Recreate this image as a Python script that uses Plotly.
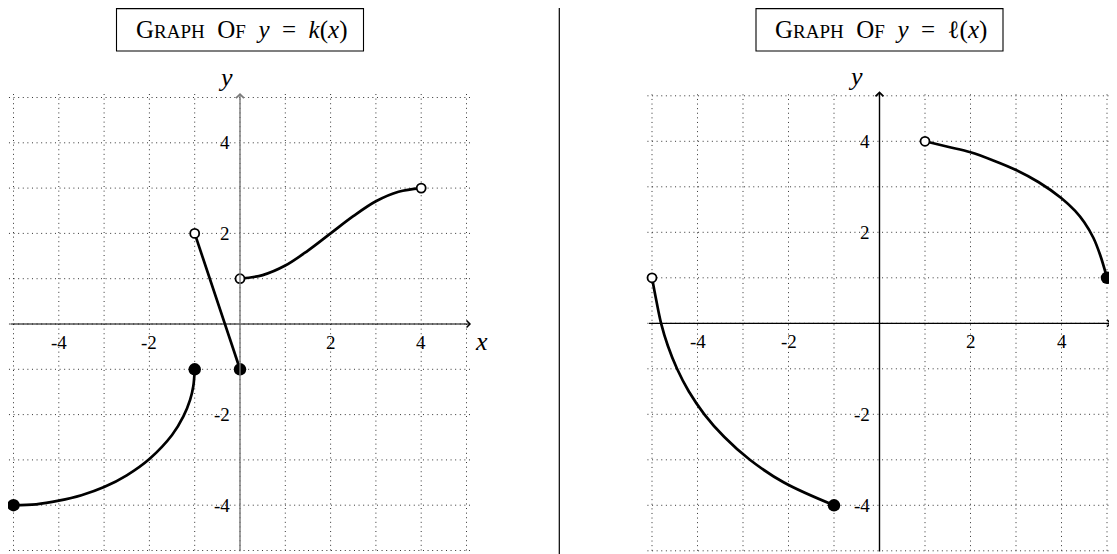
import plotly.graph_objects as go

# ---------------- data ----------------
# y = k(x)
k1_x = [-5, -4.5, -4, -3.5, -3, -2.5, -2, -1.5, -1.25, -1.1, -1.03, -1]
k1_y = [-4, -3.98, -3.9, -3.78, -3.6, -3.34, -2.98, -2.45, -2.04, -1.67, -1.37, -1]
k2_x = [-1, 0]
k2_y = [2, -1]
k3_x = [0, 0.5, 1, 1.5, 2, 2.5, 3, 3.5, 4]
k3_y = [1, 1.08, 1.29, 1.62, 2, 2.38, 2.71, 2.92, 3]
k_closed_x = [-5, -1, 0]
k_closed_y = [-4, -1, -1]
k_open_x = [-1, 0, 4]
k_open_y = [2, 1, 3]

# y = l(x)
l1_x = [-5, -4.905, -4.8, -4.65, -4.45, -4.19, -3.85, -3.41, -2.85, -2.1, -1]
l1_y = [1, 0.5, 0, -0.5, -1, -1.5, -2, -2.5, -3, -3.5, -4]
l2_x = [1, 1.5, 2, 2.5, 3, 3.5, 4, 4.3, 4.5, 4.7, 4.85, 5]
l2_y = [4, 3.88, 3.76, 3.58, 3.37, 3.1, 2.75, 2.47, 2.22, 1.88, 1.5, 1]
l_closed_x = [-1, 5]
l_closed_y = [-4, 1]
l_open_x = [-5, 1]
l_open_y = [1, 4]

tick_x = [-4, -2, 2, 4]
tick_y = [-4, -2, 2, 4]
grid_vals = [-5, -4, -3, -2, -1, 0, 1, 2, 3, 4, 5]
grid_extent = 5.1

SC = "<span style='font-size:19px'>{}</span>"
titles = ["G" + SC.format("RAPH") + "&nbsp;&nbsp;O" + SC.format("F") + "&nbsp;&nbsp;<i>y</i>&nbsp;&nbsp;=&nbsp;&nbsp;<i>k</i>(<i>x</i>)",
          "G" + SC.format("RAPH") + "&nbsp;&nbsp;O" + SC.format("F") + "&nbsp;&nbsp;<i>y</i>&nbsp;&nbsp;=&nbsp;&nbsp;ℓ(<i>x</i>)"]

# page offset (body margin of the html page)
OFF = 8
W, H = 1117 - OFF, 554 - OFF
FONT = "Liberation Serif"


def paper_x(px):
    return (px - OFF) / W


def paper_y(py):
    return 1 - (py - OFF) / H


fig = go.Figure()


def add_panel(xa, ya, curves, closed, opened, axis_color, ylab_shift):
    gx, gy = [], []
    for v in grid_vals:
        gx += [v, v, None]
        gy += [-grid_extent, grid_extent, None]
        gx += [-grid_extent, grid_extent, None]
        gy += [v, v, None]
    fig.add_trace(go.Scatter(x=gx, y=gy, mode="lines", xaxis=xa, yaxis=ya,
                             line=dict(color="#333", width=1, dash="1px,3.6px"),
                             hoverinfo="skip", showlegend=False))
    for cx, cy in curves:
        fig.add_trace(go.Scatter(x=cx, y=cy, mode="lines", xaxis=xa, yaxis=ya,
                                 line=dict(color="black", width=2.7, shape="spline", smoothing=1.0),
                                 hoverinfo="skip", showlegend=False))
    fig.add_trace(go.Scatter(x=closed[0], y=closed[1], mode="markers", xaxis=xa, yaxis=ya,
                             marker=dict(size=12.5, color="black", line=dict(width=0)),
                             hoverinfo="skip", showlegend=False))
    fig.add_trace(go.Scatter(x=opened[0], y=opened[1], mode="markers", xaxis=xa, yaxis=ya,
                             marker=dict(size=9, color="white", line=dict(width=1.8, color="black")),
                             hoverinfo="skip", showlegend=False))
    xr, yr = xa, ya
    ann = []
    ann.append(dict(x=grid_extent, y=0, ax=-grid_extent, ay=0, xref=xr, yref=yr, axref=xr, ayref=yr,
                    text="", showarrow=True, arrowhead=4, arrowsize=1.1, arrowwidth=1.2, arrowcolor="black"))
    ann.append(dict(x=0, y=grid_extent, ax=0, ay=-5.05, xref=xr, yref=yr, axref=xr, ayref=yr,
                    text="", showarrow=True, arrowhead=4, arrowsize=1.1, arrowwidth=1.4, arrowcolor=axis_color))
    for v in tick_x:
        ann.append(dict(x=v, y=0, xref=xr, yref=yr, text=str(v), showarrow=False,
                        yshift=-18, font=dict(family=FONT, size=19, color="black")))
    for v in tick_y:
        ann.append(dict(x=0, y=v, xref=xr, yref=yr, text=str(v), showarrow=False,
                        xanchor="right", xshift=-8, font=dict(family=FONT, size=19, color="black")))
    ann.append(dict(x=grid_extent, y=0, xref=xr, yref=yr, text="<i>x</i>", showarrow=False,
                    xanchor="left", xshift=2, yshift=-17, font=dict(family=FONT, size=26, color="black")))
    ann.append(dict(x=0, y=grid_extent, xref=xr, yref=yr, text="<i>y</i>", showarrow=False,
                    xshift=ylab_shift, yshift=15, font=dict(family=FONT, size=26, color="black")))
    return ann


anns = []
anns += add_panel("x", "y", [(k1_x, k1_y), (k2_x, k2_y), (k3_x, k3_y)],
                  (k_closed_x, k_closed_y), (k_open_x, k_open_y), "#7a7a7a", -15)
anns += add_panel("x2", "y2", [(l1_x, l1_y), (l2_x, l2_y)],
                  (l_closed_x, l_closed_y), (l_open_x, l_open_y), "black", -24)

shapes = []
centers = [240, 879.5]
for cx, t in zip(centers, titles):
    shapes.append(dict(type="rect", xref="paper", yref="paper",
                       x0=paper_x(cx - 123.5), x1=paper_x(cx + 123.5),
                       y0=paper_y(51), y1=paper_y(8.6),
                       line=dict(color="black", width=1.1), fillcolor="white"))
    anns.append(dict(x=paper_x(cx + 1), y=paper_y(30), xref="paper", yref="paper", text=t, showarrow=False,
                     xanchor="center", yanchor="middle", font=dict(family=FONT, size=25, color="black")))

shapes.append(dict(type="line", xref="paper", yref="paper", x0=paper_x(559.3), x1=paper_x(559.3),
                   y0=paper_y(560), y1=paper_y(8), line=dict(color="black", width=1.2)))

# axis geometry (page pixels -> figure pixels)
L_X0, L_Y0, L_U = 240 - OFF, 324 - OFF, 45.3
R_X0, R_Y0, R_U = 879.5 - OFF, 323.3 - OFF, 45.5
half = W / 2

ax_common = dict(visible=False, showgrid=False, zeroline=False, fixedrange=True)
fig.update_layout(
    width=W, height=H,
    margin=dict(l=0, r=0, t=0, b=0),
    paper_bgcolor="white", plot_bgcolor="rgba(0,0,0,0)",
    xaxis=dict(domain=[0, 0.5], range=[-L_X0 / L_U, (half - L_X0) / L_U], **ax_common),
    yaxis=dict(domain=[0, 1], range=[-(H - L_Y0) / L_U, L_Y0 / L_U], **ax_common),
    xaxis2=dict(domain=[0.5, 1], range=[(half - R_X0) / R_U, (W - R_X0) / R_U], **ax_common),
    yaxis2=dict(domain=[0, 1], range=[-(H - R_Y0) / R_U, R_Y0 / R_U], **ax_common),
    annotations=anns,
    shapes=shapes,
    showlegend=False,
)

fig.write_html("out.html")
